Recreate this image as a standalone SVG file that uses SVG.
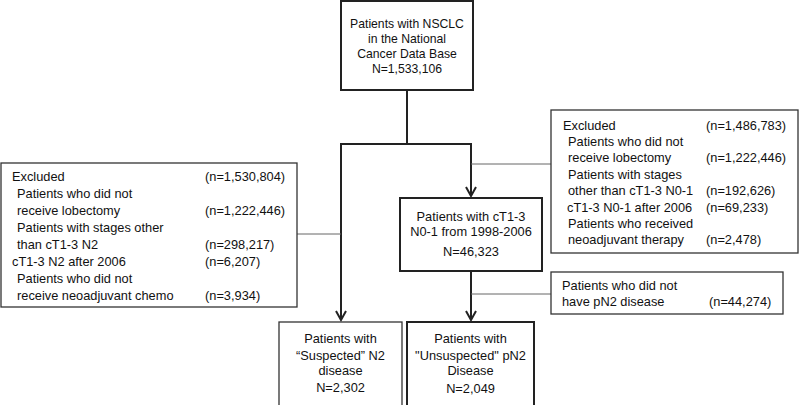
<svg xmlns="http://www.w3.org/2000/svg" width="800" height="405" viewBox="0 0 800 405">
<defs>
<style>
text{font-family:"Liberation Sans",Arial,sans-serif;font-size:12.8px;fill:#111}
.c{text-anchor:middle}
.sm{font-size:12.2px}
.bx{fill:#fff;stroke:#222;stroke-width:2}
.bt{fill:#fff;stroke:#333;stroke-width:1.3}
.flow{fill:none;stroke:#222;stroke-width:2}
.side{fill:none;stroke:#666;stroke-width:1}
</style>
<marker id="ar" markerUnits="userSpaceOnUse" viewBox="0 0 12 12" refX="10" refY="6" markerWidth="12" markerHeight="12" orient="auto">
<path d="M1,1 L10,6 L1,11" fill="none" stroke="#222" stroke-width="2"/>
</marker>
</defs>
<rect width="800" height="405" fill="#fff"/>

<g id="connectors">
<path class="flow" d="M407,90 V144"/>
<path class="flow" d="M340,144 H471"/>
<path class="flow" d="M341,143 V320" marker-end="url(#ar)"/>
<path class="flow" d="M471,143 V196" marker-end="url(#ar)"/>
<path class="flow" d="M471,271 V320" marker-end="url(#ar)"/>
<path class="side" d="M297,234 H341"/>
<path class="side" d="M471,164 H551"/>
<path class="side" d="M471,294 H551"/>
</g>

<g id="n-nsclc">
<rect class="bx" x="341" y="1" width="132" height="89"/>
<text class="c sm" x="407" y="27.5">Patients with NSCLC</text>
<text class="c sm" x="407" y="42.5">in the National</text>
<text class="c sm" x="407" y="57.5">Cancer Data Base</text>
<text class="c sm" x="407" y="72.5">N=1,533,106</text>
</g>

<g id="n-excl-left">
<rect class="bt" x="1" y="163" width="296" height="144"/>
<text x="12" y="181">Excluded</text><text x="205" y="181">(n=1,530,804)</text>
<text x="17" y="198">Patients who did not</text>
<text x="17" y="215">receive lobectomy</text><text x="205" y="215">(n=1,222,446)</text>
<text x="17" y="232">Patients with stages other</text>
<text x="17" y="249">than cT1-3 N2</text><text x="205" y="249">(n=298,217)</text>
<text x="12" y="266">cT1-3 N2 after 2006</text><text x="205" y="266">(n=6,207)</text>
<text x="17" y="283">Patients who did not</text>
<text x="17" y="300">receive neoadjuvant chemo</text><text x="205" y="300">(n=3,934)</text>
</g>

<g id="n-excl-right">
<rect class="bt" x="551" y="110" width="247" height="143"/>
<text x="563" y="129.5">Excluded</text><text x="706" y="129.5">(n=1,486,783)</text>
<text x="568" y="146">Patients who did not</text>
<text x="568" y="162.3">receive lobectomy</text><text x="706" y="162.3">(n=1,222,446)</text>
<text x="568" y="178.7">Patients with stages</text>
<text x="568" y="195">other than cT1-3 N0-1</text><text x="706" y="195">(n=192,626)</text>
<text x="567" y="211.5">cT1-3 N0-1 after 2006</text><text x="706" y="211.5">(n=69,233)</text>
<text x="568" y="228">Patients who received</text>
<text x="568" y="244.3">neoadjuvant therapy</text><text x="706" y="244.3">(n=2,478)</text>
</g>

<g id="n-ct13">
<rect class="bx" x="400" y="198" width="142" height="73"/>
<text class="c" x="471" y="221">Patients with cT1-3</text>
<text class="c" x="471" y="235.5">N0-1 from 1998-2006</text>
<text class="c" x="471" y="256">N=46,323</text>
</g>

<g id="n-no-pn2">
<rect class="bt" x="551" y="272" width="232" height="42"/>
<text x="562" y="290">Patients who did not</text>
<text x="562" y="306">have pN2 disease</text><text x="709" y="306">(n=44,274)</text>
</g>

<g id="n-suspected">
<rect class="bt" x="279" y="322" width="123" height="100"/>
<text class="c" x="340.5" y="342.5">Patients with</text>
<text class="c" x="340.5" y="359.5">“Suspected” N2</text>
<text class="c" x="340.5" y="374.5">disease</text>
<text class="c" x="340.5" y="391.5">N=2,302</text>
</g>

<g id="n-unsuspected">
<rect class="bx" x="407" y="322" width="127" height="100"/>
<text class="c" x="470.5" y="342.5">Patients with</text>
<text class="c" x="470.5" y="359.5">"Unsuspected" pN2</text>
<text class="c" x="470.5" y="374.5">Disease</text>
<text class="c" x="470.5" y="393">N=2,049</text>
</g>
</svg>
